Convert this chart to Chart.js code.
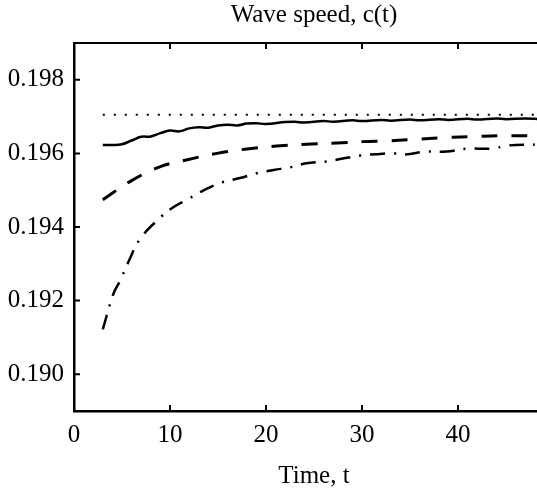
<!DOCTYPE html>
<html>
<head>
<meta charset="utf-8">
<script src="https://cdn.jsdelivr.net/npm/chart.js@4.4.1/dist/chart.umd.min.js"></script>
<style>
html,body{margin:0;padding:0;background:#fff;overflow:hidden;}
#wrap{width:537px;height:488px;overflow:hidden;position:relative;}
canvas{display:block;}
</style>
</head>
<body>
<div id="wrap"><canvas id="c" width="580" height="488"></canvas></div>
<script>
// ---- data ----
const xTicks = [0, 10, 20, 30, 40, 50];
const yTicks = [0.190, 0.192, 0.194, 0.196, 0.198];

const tRef = [3, 50];
const cRef = [0.19705, 0.19705];

const tSolid = [3, 4, 5, 6, 7, 8, 9, 10, 11, 12, 13, 14, 15, 16, 17, 18, 19, 20, 22, 23, 24, 26, 27, 29, 30, 32, 33, 35, 36, 38, 39, 41, 42, 44, 45, 47, 48.5];
const cSolid = [0.19623, 0.19623, 0.19625, 0.19635, 0.19645, 0.19646, 0.19655, 0.19662, 0.19660, 0.19668, 0.19671, 0.19670, 0.19676, 0.19678, 0.19676, 0.19681, 0.19682, 0.19680, 0.19685, 0.19686, 0.19684, 0.19688, 0.19686, 0.19690, 0.19688, 0.19691, 0.19689, 0.19692, 0.19690, 0.19693, 0.19691, 0.19694, 0.19692, 0.19695, 0.19693, 0.19695, 0.19693];

const tDash = [3, 6, 9, 11.7, 14.9, 18, 21.1, 24.2, 27.4, 30.1, 32.9, 36, 38.8, 41.9, 44.7, 47.8, 49];
const cDash = [0.19474, 0.19526, 0.19564, 0.19582, 0.19600, 0.19612, 0.19620, 0.19625, 0.19628, 0.19632, 0.19634, 0.19639, 0.19643, 0.19646, 0.19648, 0.19648, 0.19650];

const tDashDot = [3, 4.1, 4.8, 5.65, 6.9, 9, 10.3, 11.9, 13.6, 15.4, 17.3, 19, 20.8, 22.5, 24.2, 26.3, 28, 29.8, 31.5, 33.3, 34.5, 36.7, 38.8, 40.9, 43.7, 45, 48];
const cDashDot = [0.19122, 0.19218, 0.19254, 0.19304, 0.19368, 0.19426, 0.19453, 0.19476, 0.19501, 0.19521, 0.19533, 0.19546, 0.19555, 0.19562, 0.19573, 0.19578, 0.19586, 0.19594, 0.19598, 0.19600, 0.19597, 0.19605, 0.19605, 0.19613, 0.19613, 0.19621, 0.19624];

const pts = (xs, ys) => xs.map((x, i) => ({x: x, y: ys[i]}));

const serif = "'Liberation Serif', 'DejaVu Serif', serif";

const inwardTicks = {
  id: 'inwardTicks',
  afterDraw(chart) {
    const ctx = chart.ctx, a = chart.chartArea;
    const xs = chart.scales.x, ys = chart.scales.y;
    ctx.save();
    ctx.strokeStyle = '#000';
    ctx.lineWidth = 2;
    ctx.beginPath();
    xTicks.forEach(v => {
      if (v <= 0) return;
      const px = xs.getPixelForValue(v);
      ctx.moveTo(px, a.bottom); ctx.lineTo(px, a.bottom - 6);
      ctx.moveTo(px, a.top); ctx.lineTo(px, a.top + 6);
    });
    yTicks.forEach(v => {
      const py = ys.getPixelForValue(v);
      ctx.moveTo(a.left, py); ctx.lineTo(a.left + 6, py);
    });
    ctx.stroke();
    ctx.restore();
  }
};

new Chart(document.getElementById('c'), {
  type: 'line',
  data: {
    datasets: [
      {data: pts(tRef, cRef), borderColor: '#000', borderWidth: 2, borderDash: [2, 9], pointRadius: 0, tension: 0},
      {data: pts(tSolid, cSolid), borderColor: '#000', borderWidth: 2.5, pointRadius: 0, tension: 0.4},
      {data: pts(tDash, cDash), borderColor: '#000', borderWidth: 3, borderDash: [16, 14], pointRadius: 0, tension: 0.4},
      {data: pts(tDashDot, cDashDot), borderColor: '#000', borderWidth: 2.5, borderDash: [15, 9, 2, 9], pointRadius: 0, tension: 0.4}
    ]
  },
  options: {
    responsive: false,
    animation: false,
    layout: {padding: {left: 0, right: 26, top: 0, bottom: 0}},
    plugins: {legend: {display: false}, tooltip: {enabled: false}},
    scales: {
      x: {
        type: 'linear', min: 0, max: 50,
        afterBuildTicks: s => { s.ticks = xTicks.map(v => ({value: v})); },
        afterFit: s => { s.height = 77; },
        grid: {display: false, drawTicks: false},
        border: {display: true, color: '#000', width: 2.5},
        ticks: {color: '#000', padding: 9, font: {family: serif, size: 25}, maxRotation: 0},
        title: {display: true, text: 'Time, t', color: '#000', font: {family: serif, size: 25}, padding: {top: 4, bottom: -3}}
      },
      x2: {
        type: 'linear', position: 'top', min: 0, max: 50,
        afterFit: s => { s.height = 43; },
        grid: {display: false, drawTicks: false},
        border: {display: true, color: '#000', width: 2},
        ticks: {display: false},
        title: {display: true, text: 'Wave speed, c(t)', color: '#000', font: {family: serif, size: 25}, padding: {top: 0, bottom: 10}}
      },
      y: {
        type: 'linear', min: 0.189, max: 0.199,
        afterBuildTicks: s => { s.ticks = yTicks.map(v => ({value: v})); },
        afterFit: s => { s.width = 74; },
        grid: {display: false, drawTicks: false},
        border: {display: true, color: '#000', width: 2.5},
        ticks: {color: '#000', padding: 10, font: {family: serif, size: 25}, callback: v => v.toFixed(3)}
      }
    }
  },
  plugins: [inwardTicks]
});
</script>
</body>
</html>
